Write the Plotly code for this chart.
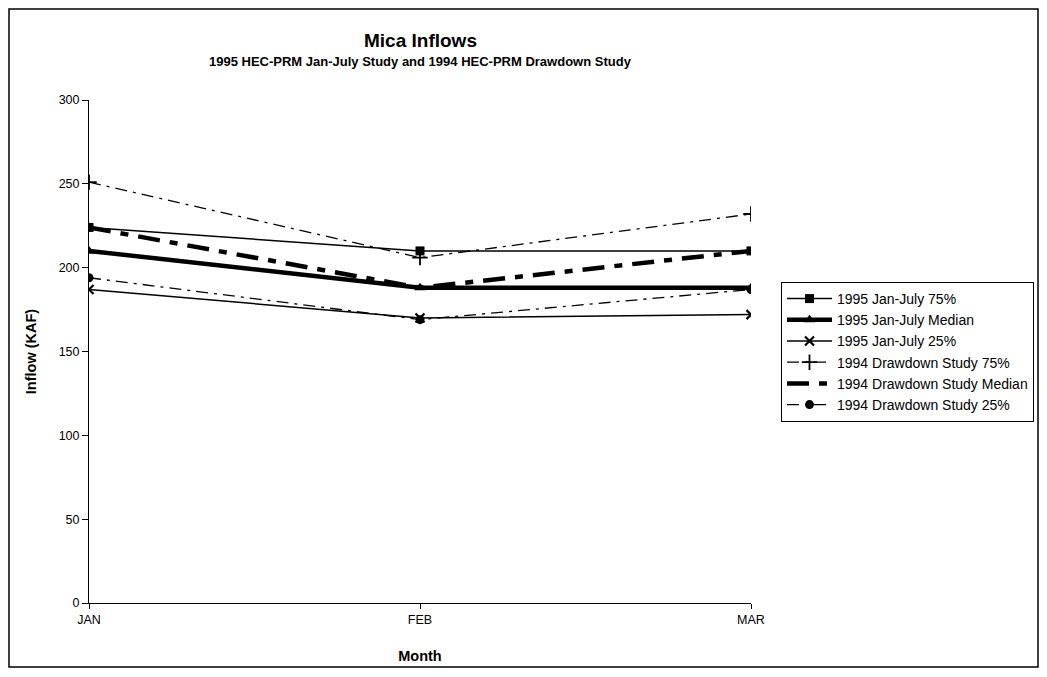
import plotly.graph_objects as go

months = ["JAN", "FEB", "MAR"]

jj_75 = [224, 210, 210]
jj_median = [210, 188, 188]
jj_25 = [187, 170, 172]
dd_75 = [251, 206, 232]
dd_median = [224, 188, 210]
dd_25 = [194, 169, 187]

series_names = [
    "1995 Jan-July 75%",
    "1995 Jan-July Median",
    "1995 Jan-July 25%",
    "1994 Drawdown Study 75%",
    "1994 Drawdown Study Median",
    "1994 Drawdown Study 25%",
]

FONT = "Liberation Sans, Arial, sans-serif"
xpos = list(range(len(months)))

fig = go.Figure()

fig.add_trace(go.Scatter(x=xpos, y=jj_75, name=series_names[0], mode="lines+markers",
                         line=dict(color="black", width=1.5),
                         marker=dict(symbol="square", size=9, color="black")))
fig.add_trace(go.Scatter(x=xpos, y=jj_median, name=series_names[1], mode="lines+markers",
                         line=dict(color="black", width=4.5),
                         marker=dict(symbol="triangle-up", size=10, color="black")))
fig.add_trace(go.Scatter(x=xpos, y=jj_25, name=series_names[2], mode="lines+markers",
                         line=dict(color="black", width=1.5),
                         marker=dict(symbol="x-thin-open", size=9, color="black",
                                     line=dict(width=2.2, color="black"))))
fig.add_trace(go.Scatter(x=xpos, y=dd_75, name=series_names[3], mode="lines+markers",
                         line=dict(color="black", width=1.3, dash="12px,6px,3px,6px"),
                         marker=dict(symbol="cross-thin-open", size=11, color="black",
                                     line=dict(width=1.8, color="black"))))
fig.add_trace(go.Scatter(x=xpos, y=dd_median, name=series_names[4], mode="lines",
                         line=dict(color="black", width=4.5, dash="22px,10px,8px,10px")))
fig.add_trace(go.Scatter(x=xpos, y=dd_25, name=series_names[5], mode="lines+markers",
                         line=dict(color="black", width=1.3, dash="12px,6px,3px,6px"),
                         marker=dict(symbol="circle", size=9, color="black")))

# page has an 8px body margin; coordinates below are reference pixels minus 8
OFF = 8
L, R_px, T, B_px = 89 - OFF, 751 - OFF, 100 - OFF, 603 - OFF
W, H = 1047 - 2 * OFF, 677 - 2 * OFF
pw = R_px - L
ph = B_px - T

def px_x(p):
    return (p - OFF - L) / pw

def px_y(p):
    return (B_px - (p - OFF)) / ph

fig.update_layout(
    width=W, height=H,
    margin=dict(l=L, r=W - R_px, t=T, b=H - B_px, autoexpand=False),
    paper_bgcolor="white", plot_bgcolor="white",
    font=dict(family=FONT, color="black", size=12),
    showlegend=True,
    legend=dict(x=px_x(781), y=px_y(282), xanchor="left", yanchor="top",
                bordercolor="black", borderwidth=1, bgcolor="white",
                font=dict(family=FONT, size=14, color="black"),
                itemwidth=45, tracegroupgap=0, traceorder="normal"),
    xaxis=dict(range=[0, 2], tickvals=xpos, ticktext=months,
               showline=True, linecolor="black", linewidth=1,
               ticks="outside", ticklen=5, tickcolor="black",
               showgrid=False, zeroline=False,
               tickfont=dict(family=FONT, size=12.5),
               title=dict(text="<b>Month</b>", font=dict(family=FONT, size=14.5), standoff=24)),
    yaxis=dict(range=[0, 300], dtick=50,
               showline=True, linecolor="black", linewidth=1,
               ticks="outside", ticklen=6, tickcolor="black",
               showgrid=False, zeroline=False,
               tickfont=dict(family=FONT, size=12.5),
               title=dict(text="<b>Inflow (KAF)</b>", font=dict(family=FONT, size=14.5), standoff=18)),
    annotations=[
        dict(text="<b>Mica Inflows</b>", x=0.5, y=px_y(41), xref="paper", yref="paper",
             showarrow=False, font=dict(family=FONT, size=19), xanchor="center", yanchor="middle"),
        dict(text="<b>1995 HEC-PRM Jan-July Study and 1994 HEC-PRM Drawdown Study</b>",
             x=0.5, y=px_y(61), xref="paper", yref="paper", showarrow=False,
             font=dict(family=FONT, size=13), xanchor="center", yanchor="middle"),
    ],
    shapes=[
        dict(type="rect", xref="paper", yref="paper",
             x0=px_x(9), x1=px_x(1038), y0=px_y(667), y1=px_y(9),
             line=dict(color="black", width=1.5), fillcolor="rgba(0,0,0,0)", layer="below"),
    ],
)

fig.write_html("out.html")
